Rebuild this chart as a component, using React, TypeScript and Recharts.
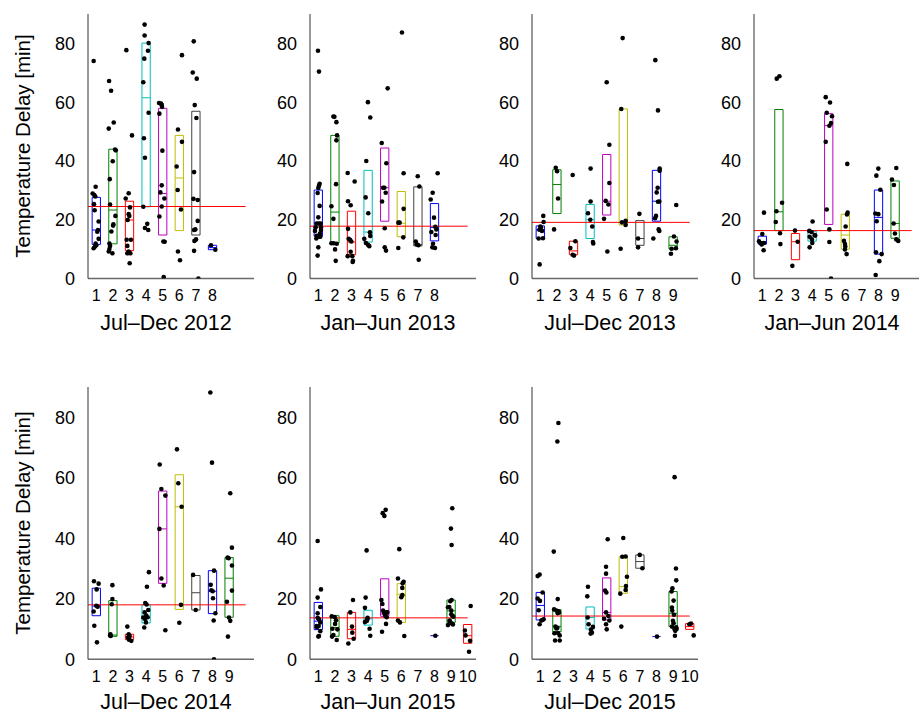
import React from 'react';
import { ScatterChart, Scatter, XAxis, YAxis, ReferenceArea, ReferenceLine } from 'recharts';

// box = [category, q1, median, q3]; dot = [x (jittered category), delay]
type Box = [number, number, number, number];
type Dot = [number, number];

const titles = ['Jul–Dec 2012', 'Jan–Jun 2013', 'Jul–Dec 2013', 'Jan–Jun 2014', 'Jul–Dec 2014', 'Jan–Jun 2015', 'Jul–Dec 2015'];
const redLevels = [24.5, 17.8, 19.1, 16.3, 18.0, 13.7, 14.3];
const tickCounts = [8, 8, 9, 9, 9, 10, 10];
const yTicks = [0, 20, 40, 60, 80];
const colors = ['#0000ff', '#008000', '#ff0000', '#00bfbf', '#bf00bf', '#bfbf00', '#404040', '#0000ff', '#008000', '#ff0000'];

const p1Boxes: Box[] = [
  [1, 11.6, 16.5, 27.6], [2, 11.8, 23.3, 44.0], [3, 9.5, 19.9, 26.3], [4, 24.4, 61.5, 80.1],
  [5, 14.8, 28.9, 57.9], [6, 16.3, 34.2, 48.7], [7, 14.8, 27.0, 56.9], [8, 9.8, 10.5, 11.3],
];
const p1Dots: Dot[] = [
  [0.84, 74.0], [0.96, 31.2], [0.78, 28.9], [0.88, 28.4], [0.94, 27.9], [0.86, 25.3], [0.9, 23.2], [1.14, 19.4],
  [1.1, 16.5], [1.06, 15.9], [1.14, 13.5], [0.96, 11.9], [1.0, 11.3], [0.92, 10.9], [0.84, 10.3],
  [1.77, 67.2], [1.89, 63.9], [1.75, 51.0], [2.05, 53.1], [2.13, 43.9], [2.17, 43.6], [1.99, 39.9], [1.81, 33.8],
  [1.83, 25.2], [2.15, 21.3], [2.03, 18.4], [2.01, 18.0], [1.91, 16.0], [1.79, 11.9], [1.83, 11.1], [1.79, 10.0],
  [1.75, 9.2], [1.97, 8.6],
  [2.81, 77.7], [3.15, 48.7], [2.95, 29.0], [2.77, 27.2], [3.03, 24.2], [2.95, 21.9], [2.99, 21.3], [2.89, 19.9],
  [2.83, 13.2], [3.09, 13.2], [2.87, 11.1], [2.95, 9.2], [2.87, 8.6], [3.05, 8.6], [3.01, 5.2],
  [3.91, 86.4], [3.91, 82.7], [4.15, 80.1], [4.11, 77.5], [3.89, 74.8], [3.83, 66.8], [4.15, 56.4], [3.87, 47.7],
  [3.93, 41.1], [3.83, 24.4], [4.07, 18.6], [3.93, 17.2], [4.13, 16.5],
  [4.78, 59.7], [4.9, 59.5], [4.94, 59.1], [4.96, 58.4], [4.8, 56.1], [4.98, 43.5], [4.94, 31.7], [4.86, 29.3],
  [5.1, 27.2], [4.94, 24.5], [4.8, 21.1], [5.04, 12.6], [5.12, 12.5], [5.06, 0.5],
  [6.16, 76.0], [5.92, 50.7], [6.16, 46.5], [5.84, 38.1], [5.9, 30.1], [6.1, 23.5], [5.92, 9.2], [6.04, 6.2],
  [6.87, 80.7], [6.81, 70.1], [7.05, 68.0], [6.93, 59.0], [7.03, 54.6], [6.89, 36.2], [6.85, 27.1], [7.11, 26.7],
  [7.11, 19.6], [6.97, 16.7], [6.89, 16.5], [6.91, 12.8], [7.01, 13.3], [6.89, 9.4], [7.15, 0],
  [7.91, 11.3], [8.17, 9.8],
];

const p2Boxes: Box[] = [
  [1, 14.4, 18.8, 30.1], [2, 12.1, 22.6, 48.7], [3, 8.1, 12.4, 22.9], [4, 12.4, 15.8, 36.8],
  [5, 19.5, 30.9, 44.4], [6, 14.2, 18.8, 29.6], [7, 11.1, 11.5, 31.2], [8, 12.8, 17.4, 25.5],
];
const p2Dots: Dot[] = [
  [0.98, 77.5], [1.04, 70.4], [1.08, 32.2], [1.04, 31.6], [1.0, 30.8], [0.96, 29.1], [1.08, 24.7], [1.0, 20.8],
  [0.9, 18.7], [1.02, 18.7], [1.14, 18.7], [0.84, 17.4], [0.8, 16.2], [1.16, 17.4], [1.16, 16.5], [1.1, 15.3],
  [0.88, 13.6], [1.06, 14.2], [1.12, 14.2], [0.9, 14.5], [1.0, 10.6], [0.96, 7.8],
  [1.91, 55.1], [1.97, 55.0], [2.09, 53.2], [2.13, 48.7], [2.09, 47.0], [2.07, 32.1], [1.79, 24.6], [1.91, 20.3],
  [1.79, 12.0], [1.93, 12.0], [2.11, 11.8], [2.01, 9.9], [2.05, 6.0],
  [2.77, 35.9], [3.19, 33.0], [2.79, 26.3], [2.95, 24.9], [2.79, 16.9], [2.83, 13.5], [2.91, 13.2], [2.99, 12.6],
  [2.95, 9.1], [2.77, 7.6], [3.05, 7.6], [3.09, 6.0], [3.07, 5.6],
  [3.99, 60.0], [4.13, 54.8], [3.89, 40.0], [3.85, 27.6], [4.01, 22.2], [4.11, 15.7], [4.13, 14.5], [3.77, 13.5],
  [3.87, 12.1], [3.99, 11.5], [4.07, 11.0],
  [5.18, 64.7], [4.82, 46.1], [5.1, 39.2], [4.9, 30.9], [4.98, 30.9], [5.06, 29.2], [4.84, 26.2], [5.0, 17.1],
  [5.0, 10.6], [5.08, 9.5],
  [6.04, 83.7], [6.14, 35.8], [6.14, 23.7], [5.82, 19.0], [5.9, 19.0], [6.12, 14.0], [5.82, 10.4],
  [6.99, 34.8], [7.09, 31.3], [6.87, 12.6], [6.93, 11.6], [7.03, 11.3], [7.05, 6.4],
  [8.19, 35.8], [7.89, 29.2], [7.77, 26.9], [7.97, 20.7], [8.05, 17.6], [8.11, 16.7], [7.81, 15.8], [8.07, 14.8],
  [7.91, 11.8], [8.03, 10.4], [7.87, 10.6],
];

const p3Boxes: Box[] = [
  [1, 13.6, 16.5, 17.9], [2, 22.1, 32.0, 37.0], [3, 8.1, 9.4, 12.7], [4, 13.6, 20.0, 25.2], [5, 21.6, 26.3, 42.2],
  [6, 18.2, 19.1, 57.7], [7, 11.3, 13.6, 19.7], [8, 19.5, 26.3, 36.8], [9, 10.0, 11.3, 14.2],
];
const p3Dots: Dot[] = [
  [1.18, 21.3], [1.2, 19.2], [1.04, 17.4], [1.0, 17.7], [0.94, 16.6], [1.1, 16.2], [0.9, 13.6], [1.16, 13.7], [0.96, 4.8],
  [1.93, 37.7], [2.01, 36.5], [2.07, 27.2], [1.83, 16.7],
  [2.95, 35.2], [3.11, 12.7], [2.81, 10.4], [2.95, 8.1], [3.03, 7.8],
  [4.03, 37.4], [4.03, 26.2], [3.87, 22.2], [4.01, 20.0], [4.13, 17.7], [4.17, 12.4], [4.19, 11.9],
  [5.0, 66.8], [5.16, 45.5], [5.16, 32.5], [4.94, 26.4], [5.1, 25.2], [4.84, 20.3], [5.04, 9.2],
  [5.96, 81.8], [5.88, 57.7], [6.14, 19.6], [5.92, 19.1], [6.14, 18.2], [5.84, 10.1],
  [6.97, 22.0], [6.89, 13.6], [6.89, 10.6],
  [7.93, 74.3], [8.09, 57.2], [8.19, 37.4], [8.19, 36.7], [8.07, 30.9], [8.01, 29.3], [8.17, 26.2], [8.09, 26.1],
  [7.97, 21.3], [7.91, 20.5], [8.13, 16.7], [8.17, 16.2], [7.81, 13.6],
  [9.19, 25.0], [9.05, 14.3], [9.21, 12.6], [9.17, 10.3], [8.91, 10.1], [8.87, 8.4],
];

const p4Boxes: Box[] = [
  [1, 11.7, 12.5, 14.4], [2, 16.3, 22.7, 57.5], [3, 6.4, 12.5, 15.3], [4, 12.7, 14.4, 16.1],
  [5, 18.4, 52.0, 56.1], [6, 10.0, 14.8, 21.9], [8, 8.3, 20.8, 30.1], [9, 13.7, 18.7, 33.2],
];
const p4Dots: Dot[] = [
  [1.1, 22.4], [1.0, 15.1], [0.8, 12.7], [0.9, 12.1], [1.1, 12.1], [0.96, 11.6], [1.08, 9.6],
  [1.87, 68.0], [2.03, 68.8], [2.19, 25.8], [1.85, 22.9], [1.81, 19.2], [2.07, 15.4], [2.09, 11.7],
  [2.97, 16.3], [3.13, 12.5], [2.81, 4.3],
  [4.03, 19.4], [3.83, 16.2], [3.97, 15.8], [4.15, 14.8], [4.19, 14.6], [3.85, 14.2], [3.99, 13.3], [4.01, 12.1], [3.85, 10.6],
  [4.82, 61.7], [5.08, 59.9], [4.88, 56.4], [5.2, 55.2], [5.14, 52.9], [5.04, 52.0], [4.82, 46.5], [4.88, 23.5],
  [5.04, 16.7], [5.04, 12.4], [5.14, 0],
  [6.12, 39.0], [6.14, 22.4], [6.1, 21.8], [6.02, 17.7], [5.92, 12.8], [5.98, 11.7], [6.0, 10.9], [5.98, 9.9], [6.08, 8.3],
  [7.99, 37.4], [7.87, 35.0], [8.11, 30.2], [7.81, 22.1], [7.99, 21.9], [7.89, 19.5], [7.85, 8.9], [8.19, 8.3],
  [8.05, 5.9], [7.83, 1.2],
  [9.07, 37.6], [8.81, 33.7], [8.93, 31.8], [8.91, 18.7], [8.99, 15.3], [9.07, 13.3], [9.19, 12.8],
];

const p5Boxes: Box[] = [
  [1, 14.4, 17.6, 23.5], [2, 7.6, 8.0, 19.4], [3, 6.5, 7.4, 8.3], [4, 12.0, 13.7, 18.0], [5, 25.1, 43.1, 55.6],
  [6, 16.5, 50.4, 61.0], [7, 16.3, 22.0, 27.7], [8, 15.1, 22.5, 29.3], [9, 13.9, 26.8, 33.6],
];
const p5Dots: Dot[] = [
  [0.86, 25.8], [1.14, 25.0], [1.02, 23.1], [1.0, 17.7], [1.08, 17.4], [0.84, 15.8], [0.88, 11.1], [1.04, 5.6],
  [1.97, 24.5], [1.97, 19.9], [1.93, 18.2], [1.85, 8.3], [1.87, 7.7], [1.83, 7.9],
  [2.87, 10.8], [2.95, 8.3], [3.01, 7.7], [2.91, 7.2], [2.97, 6.5], [3.11, 6.1],
  [4.17, 28.8], [4.05, 24.0], [3.95, 18.6], [4.03, 18.1], [4.13, 16.3], [3.91, 15.5], [4.01, 14.5], [3.83, 13.8],
  [4.09, 13.9], [3.93, 13.3], [3.99, 12.2], [3.89, 10.5],
  [4.82, 64.4], [4.92, 56.3], [5.16, 54.1], [4.8, 43.1], [4.92, 26.7], [5.06, 24.4], [5.16, 9.6],
  [5.86, 69.4], [5.94, 58.2], [6.14, 50.4], [6.1, 18.0], [6.0, 12.1],
  [6.83, 27.9], [6.99, 16.3],
  [7.87, 88.2], [7.97, 65.0], [8.09, 29.3], [7.89, 24.6], [7.93, 22.8], [8.01, 22.5], [8.03, 20.2], [8.17, 15.2],
  [8.07, 12.8], [8.09, 0],
  [9.07, 54.9], [9.17, 36.9], [8.91, 33.6], [8.97, 33.4], [9.17, 31.0], [9.17, 22.7], [8.87, 19.0], [8.99, 13.8],
  [9.07, 12.7], [8.93, 7.5],
];

const p6Boxes: Box[] = [
  [1, 9.8, 12.6, 18.8], [2, 7.6, 10.5, 14.4], [3, 6.8, 9.9, 15.5], [4, 11.3, 13.4, 16.2], [5, 14.2, 15.0, 26.6],
  [6, 12.2, 21.5, 25.0], [8, 7.8, 7.8, 7.8], [9, 12.2, 16.0, 19.6], [10, 5.3, 7.8, 11.5],
];
const p6Dots: Dot[] = [
  [0.96, 39.1], [1.16, 23.1], [0.96, 20.4], [1.12, 17.3], [0.96, 15.2], [1.04, 13.2], [0.96, 13.7], [1.12, 12.2],
  [0.9, 11.0], [1.02, 11.0], [0.92, 10.6], [1.12, 9.3], [1.0, 7.5], [1.04, 7.7],
  [1.81, 14.2], [1.99, 14.0], [2.07, 12.9], [2.01, 11.7], [1.85, 10.1], [2.15, 9.9], [1.91, 8.0], [1.83, 7.5], [2.11, 6.4],
  [3.09, 19.6], [2.93, 15.5], [3.03, 10.8], [3.05, 8.8], [3.13, 6.8], [2.81, 5.2],
  [3.91, 36.0], [3.85, 20.4], [3.81, 17.0], [3.97, 13.7], [3.95, 13.2], [3.93, 12.7], [3.81, 12.3], [4.09, 10.1], [4.13, 7.8],
  [5.06, 49.4], [4.88, 48.3], [4.98, 47.4], [4.8, 19.6], [4.86, 18.3], [4.9, 16.1], [4.96, 15.5], [5.08, 15.5],
  [5.16, 15.5], [5.0, 15.0], [5.04, 14.3], [5.12, 13.9], [5.08, 11.7], [4.84, 9.1],
  [5.88, 36.4], [5.8, 26.7], [6.08, 25.1], [6.14, 25.6], [6.06, 23.6], [6.06, 21.2], [6.0, 20.5], [5.8, 12.8],
  [5.92, 12.2], [6.18, 7.7],
  [8.05, 7.8],
  [9.07, 49.9], [8.99, 43.2], [9.03, 37.8], [9.03, 19.6], [8.95, 19.2], [8.81, 17.2], [8.89, 17.3], [9.01, 16.1],
  [9.01, 14.9], [9.07, 14.4], [9.13, 14.1], [8.93, 12.5], [8.91, 12.8], [9.05, 11.8], [8.81, 11.3], [9.11, 11.5],
  [10.18, 17.6], [9.83, 9.5], [9.87, 7.9], [10.14, 6.1], [10.08, 2.5],
];

const p7Boxes: Box[] = [
  [1, 13.0, 17.8, 22.1], [2, 9.1, 10.9, 16.4], [4, 10.0, 13.8, 17.3], [5, 13.0, 15.5, 26.9], [6, 21.8, 24.0, 33.9],
  [7, 30.1, 32.3, 34.5], [8, 7.5, 7.5, 7.5], [9, 10.8, 15.2, 22.4], [10, 9.9, 10.8, 11.8],
];
const p7Dots: Dot[] = [
  [0.84, 27.5], [0.96, 28.0], [1.14, 22.1], [0.84, 20.1], [0.98, 19.3], [0.9, 16.2], [1.2, 13.2], [1.06, 12.8],
  [1.12, 13.0], [0.96, 11.6],
  [2.09, 78.1], [2.03, 72.0], [1.81, 35.6], [2.05, 19.9], [1.83, 16.5], [1.97, 16.1], [2.09, 15.9], [2.13, 15.5],
  [2.05, 15.2], [1.91, 10.8], [2.03, 10.4], [1.97, 10.2], [2.07, 8.7], [1.85, 8.6], [2.17, 7.9], [1.89, 6.2], [2.17, 6.2],
  [3.87, 24.0], [3.83, 20.8], [3.85, 13.8], [3.91, 11.6], [4.17, 10.7], [4.05, 9.8], [4.03, 8.5], [4.11, 8.8],
  [5.06, 39.7], [4.96, 30.6], [4.96, 28.3], [4.9, 22.7], [4.98, 22.1], [4.96, 15.5], [5.1, 14.3], [4.84, 13.4],
  [5.16, 12.8], [4.96, 11.6], [5.0, 9.9],
  [6.0, 40.1], [5.94, 33.9], [6.14, 34.0], [6.22, 27.3], [6.16, 24.2], [6.14, 22.9], [5.82, 21.7], [5.88, 10.8],
  [6.99, 34.5], [7.15, 30.1],
  [8.03, 7.5],
  [9.09, 60.2], [9.17, 30.0], [9.19, 26.1], [8.96, 23.5], [8.91, 22.4], [9.03, 19.4], [8.93, 17.1], [8.95, 16.1],
  [9.05, 14.7], [8.99, 12.7], [9.03, 11.9], [8.93, 10.8], [9.19, 10.6], [9.21, 10.0], [9.09, 9.9], [9.13, 9.4], [9.11, 7.8],
  [9.98, 11.6], [10.08, 11.8], [10.24, 7.9],
];

const panelBoxes = [p1Boxes, p2Boxes, p3Boxes, p4Boxes, p5Boxes, p6Boxes, p7Boxes];
const panelDots = [p1Dots, p2Dots, p3Dots, p4Dots, p5Dots, p6Dots, p7Dots];

const FONT = '"Liberation Sans", Arial, Helvetica, sans-serif';
const Y_AXIS_W = 60;
const PLOT_W = 166;
const HALF_BOX = 0.25;

// plot-area placement of each panel (left, top, height) and title centre in page pixels
const layout = [
  { left: 88, top: 13.5, h: 264.5, titleY: 323 },
  { left: 310, top: 13.5, h: 264.5, titleY: 323 },
  { left: 532, top: 13.5, h: 264.5, titleY: 323 },
  { left: 754, top: 13.5, h: 264.5, titleY: 323 },
  { left: 88, top: 387, h: 272.3, titleY: 702.5 },
  { left: 310, top: 387, h: 272.3, titleY: 702.5 },
  { left: 532, top: 387, h: 272.3, titleY: 702.5 },
];

const dotShape = (props: any) => <circle cx={props.cx} cy={props.cy} r={2.3} fill="#000" />;

interface PanelProps {
  idx: number;
}

const Panel: React.FC<PanelProps> = ({ idx }) => {
  const { left, top, h, titleY } = layout[idx];
  const marginTop = 6;
  const xAxisH = 30;
  const data = panelDots[idx].map(([x, y]) => ({ x, y }));
  const ticks = Array.from({ length: tickCounts[idx] }, (_, i) => i + 1);
  const red = redLevels[idx];

  return (
    <>
      <div style={{ position: 'absolute', left: left - Y_AXIS_W, top: top - marginTop }}>
        <ScatterChart
          width={Y_AXIS_W + PLOT_W + 6}
          height={marginTop + h + xAxisH}
          margin={{ top: marginTop, right: 6, bottom: 0, left: 0 }}
        >
          <XAxis
            type="number"
            dataKey="x"
            domain={[0.5, 10.5]}
            ticks={ticks}
            interval={0}
            allowDataOverflow
            height={xAxisH}
            tickLine={false}
            tickSize={0}
            tickMargin={11}
            axisLine={{ stroke: '#6a6a6a', strokeWidth: 1.5 }}
            tick={{ fontSize: 16, fill: '#000', fontFamily: FONT }}
          />
          <YAxis
            type="number"
            dataKey="y"
            domain={[0, 90]}
            ticks={yTicks}
            interval={0}
            allowDataOverflow
            width={Y_AXIS_W}
            tickLine={false}
            tickSize={0}
            tickMargin={13}
            axisLine={{ stroke: '#333', strokeWidth: 1 }}
            tick={{ fontSize: 18, fill: '#000', fontFamily: FONT }}
          />
          {panelBoxes[idx].map(([c, q1, med, q3]) =>
            q3 > q1 ? (
              <ReferenceArea
                key={`a${c}`}
                x1={c - HALF_BOX}
                x2={c + HALF_BOX}
                y1={q1}
                y2={q3}
                fill="none"
                fillOpacity={0}
                stroke={colors[c - 1]}
                strokeWidth={1}
                ifOverflow="visible"
              />
            ) : null
          )}
          {panelBoxes[idx].map(([c, , med]) => (
            <ReferenceLine
              key={`m${c}`}
              segment={[{ x: c - HALF_BOX, y: med }, { x: c + HALF_BOX, y: med }]}
              stroke={colors[c - 1]}
              strokeWidth={1}
              ifOverflow="visible"
            />
          ))}
          <ReferenceLine
            segment={[{ x: 0.5, y: red }, { x: 10, y: red }]}
            stroke="#ff0000"
            strokeWidth={1}
            ifOverflow="visible"
          />
          <Scatter data={data} shape={dotShape} isAnimationActive={false} />
        </ScatterChart>
      </div>
      <div
        style={{
          position: 'absolute',
          left: left + PLOT_W / 2 - 5 - 100,
          width: 200,
          top: titleY - 10.5,
          textAlign: 'center',
          fontFamily: FONT,
          fontSize: 21.5,
          lineHeight: '21px',
          color: '#000',
          whiteSpace: 'nowrap',
        }}
      >
        {titles[idx]}
      </div>
    </>
  );
};

const YLabel = ({ centerY }: { centerY: number }) => (
  <div
    style={{
      position: 'absolute',
      left: 23 - 150,
      top: centerY - 11,
      width: 300,
      textAlign: 'center',
      fontFamily: FONT,
      fontSize: 20.5,
      lineHeight: '22px',
      color: '#000',
      transform: 'rotate(-90deg)',
      whiteSpace: 'nowrap',
    }}
  >
    Temperature Delay [min]
  </div>
);

export default function App() {
  return (
    <div style={{ position: 'absolute', left: 0, top: 0, width: 919, height: 714, background: '#fff', overflow: 'hidden' }}>
      <YLabel centerY={146} />
      <YLabel centerY={523} />
      {titles.map((_, i) => (
        <Panel key={i} idx={i} />
      ))}
    </div>
  );
}
